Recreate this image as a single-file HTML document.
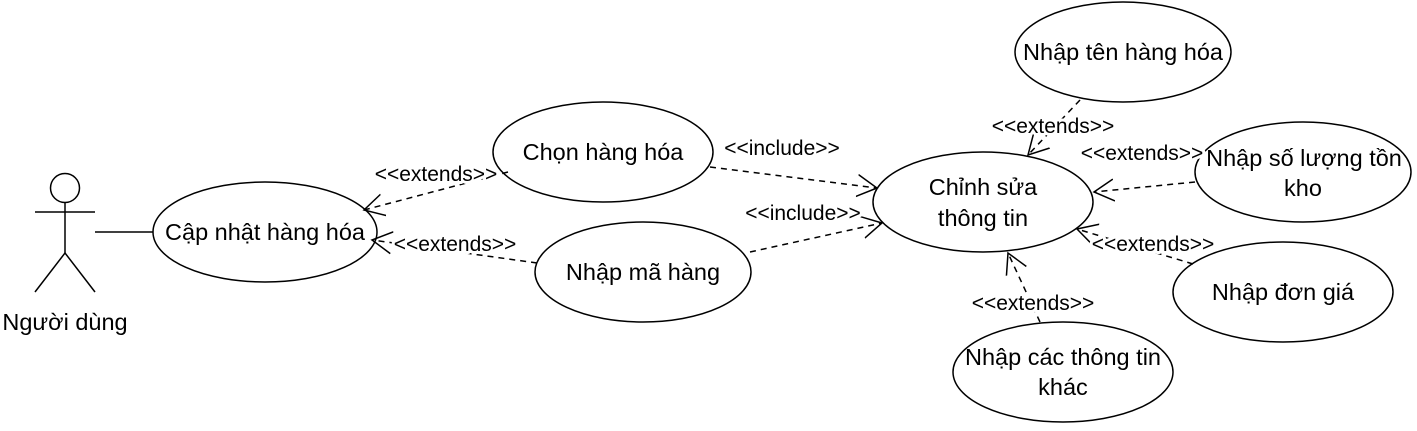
<!DOCTYPE html>
<html><head><meta charset="utf-8"><style>
html,body{margin:0;padding:0;background:#fff}
svg{display:block}
text{font-family:"Liberation Sans",Arial,sans-serif;fill:#000}
.u{font-size:23.5px;text-anchor:middle}
.l{font-size:21px;text-anchor:middle;paint-order:stroke;stroke:#fff;stroke-width:6px;stroke-linejoin:round}
.d{stroke:#000;stroke-width:1.5;stroke-dasharray:6,5;fill:none}
.e{fill:#fff;stroke:#000;stroke-width:1.5}
</style></head><body>
<svg width="1417" height="431" viewBox="0 0 1417 431" xmlns="http://www.w3.org/2000/svg">
<defs>
<marker id="a" markerWidth="22" markerHeight="24" refX="20" refY="12" orient="auto" markerUnits="userSpaceOnUse">
<path d="M0,1 L20,12 L0,23" fill="none" stroke="#000" stroke-width="1.5"/>
</marker>
</defs>
<g stroke="#000" stroke-width="1.5" fill="none">
<circle cx="65" cy="188" r="14.5" fill="#fff"/>
<line x1="65" y1="203" x2="65" y2="253"/>
<line x1="35" y1="212" x2="95" y2="212"/>
<line x1="65" y1="253" x2="35" y2="292"/>
<line x1="65" y1="253" x2="95" y2="292"/>
<line x1="95" y1="232" x2="153" y2="232"/>
</g>
<text x="65" y="330" style="font-size:23.5px;text-anchor:middle">Người dùng</text>
<ellipse class="e" cx="265" cy="232" rx="112" ry="50"/>
<ellipse class="e" cx="603" cy="152" rx="110" ry="50"/>
<ellipse class="e" cx="643" cy="272" rx="108" ry="50"/>
<ellipse class="e" cx="983" cy="202" rx="110" ry="50"/>
<ellipse class="e" cx="1123" cy="52" rx="108" ry="50"/>
<ellipse class="e" cx="1303" cy="172" rx="108" ry="50"/>
<ellipse class="e" cx="1283" cy="292" rx="110" ry="50"/>
<ellipse class="e" cx="1063" cy="372" rx="110" ry="50"/>
<line class="d" x1="508" y1="172" x2="364" y2="210" marker-end="url(#a)"/>
<line class="d" x1="537" y1="263" x2="372" y2="240" marker-end="url(#a)"/>
<line class="d" x1="710" y1="167" x2="877" y2="188" marker-end="url(#a)"/>
<line class="d" x1="750" y1="252" x2="882" y2="223" marker-end="url(#a)"/>
<line class="d" x1="1080" y1="100" x2="1028" y2="155" marker-end="url(#a)"/>
<line class="d" x1="1195" y1="182" x2="1094" y2="192" marker-end="url(#a)"/>
<line class="d" x1="1193" y1="264" x2="1077" y2="229" marker-end="url(#a)"/>
<line class="d" x1="1040" y1="322" x2="1008" y2="253" marker-end="url(#a)"/>
<text class="l" x="436" y="181">&lt;&lt;extends&gt;&gt;</text>
<text class="l" x="455" y="251">&lt;&lt;extends&gt;&gt;</text>
<text class="l" x="782" y="155">&lt;&lt;include&gt;&gt;</text>
<text class="l" x="803" y="220">&lt;&lt;include&gt;&gt;</text>
<text class="l" x="1053" y="133">&lt;&lt;extends&gt;&gt;</text>
<text class="l" x="1142" y="160">&lt;&lt;extends&gt;&gt;</text>
<text class="l" x="1153" y="251">&lt;&lt;extends&gt;&gt;</text>
<text class="l" x="1033" y="310">&lt;&lt;extends&gt;&gt;</text>
<text class="u" x="265" y="240">Cập nhật hàng hóa</text>
<text class="u" x="603" y="160">Chọn hàng hóa</text>
<text class="u" x="643" y="280">Nhập mã hàng</text>
<text class="u" x="983" y="195">Chỉnh sửa</text>
<text class="u" x="983" y="226">thông tin</text>
<text class="u" x="1123" y="60">Nhập tên hàng hóa</text>
<text class="u" x="1304" y="166">Nhập số lượng tồn</text>
<text class="u" x="1303" y="196">kho</text>
<text class="u" x="1283" y="300">Nhập đơn giá</text>
<text class="u" x="1063" y="365">Nhập các thông tin</text>
<text class="u" x="1063" y="395">khác</text>
</svg>
</body></html>
